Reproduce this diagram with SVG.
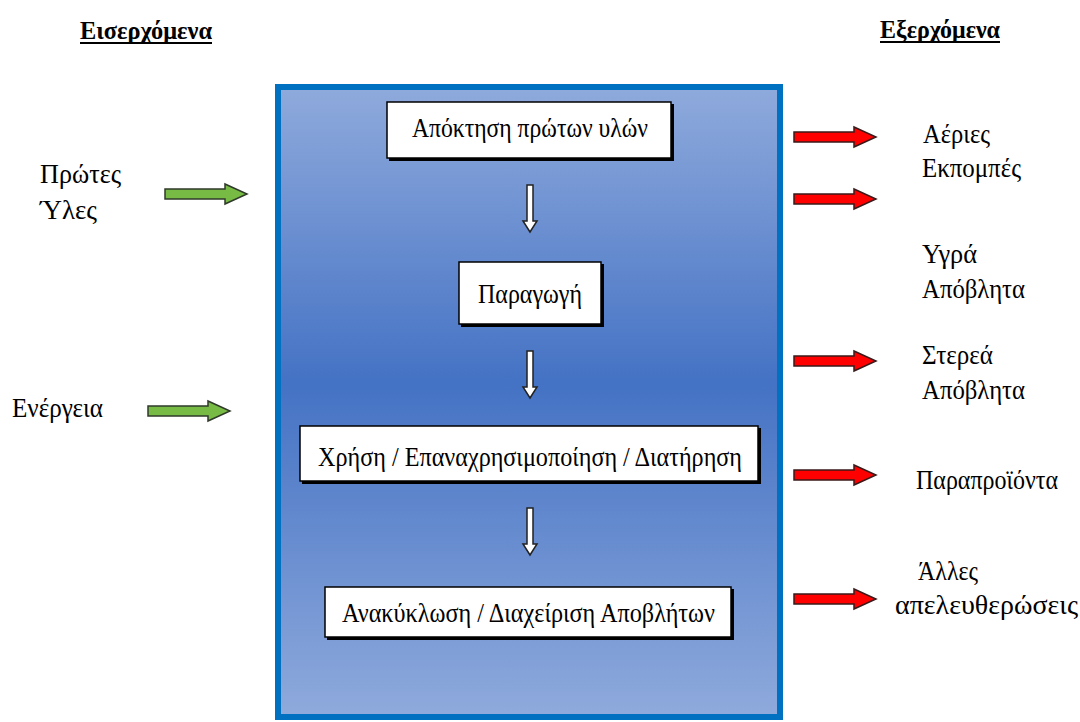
<svg xmlns="http://www.w3.org/2000/svg" width="1080" height="722" viewBox="0 0 1080 722">
<defs>
<linearGradient id="bg" x1="0" y1="0" x2="0" y2="1">
<stop offset="0" stop-color="#8FAADC"/>
<stop offset="0.47" stop-color="#4472C4"/>
<stop offset="1" stop-color="#8FAADC"/>
</linearGradient>
<path id="harrow" d="M0,-5 L60,-5 L60,-10 L82,0 L60,10 L60,5 L0,5 Z"/>
<path id="varrow" d="M-3,0 L3,0 L3,36 L7,36 L0,47 L-7,36 L-3,36 Z"/>
</defs>
<style>
text{font-family:"Liberation Serif","DejaVu Serif",serif;fill:#000;font-size:28px}
.hd{font-weight:bold;font-size:25px}
.ul{stroke:#000;stroke-width:2}
.box{fill:#fff;stroke:#000;stroke-width:1.5}
.sh{fill:#000}
.g{fill:#77BB44;stroke:#2f3a2a;stroke-width:1.5}
.r{fill:#FF0000;stroke:#3a1a1a;stroke-width:1.5}
.w{fill:#fff;stroke:#222;stroke-width:1.5}
</style>
<g id="frame">
<rect x="278" y="87" width="502" height="630" fill="url(#bg)" stroke="#0070C0" stroke-width="6"/>
</g>
<g id="n1">
<rect class="sh" x="389" y="104" width="285" height="57"/>
<rect class="box" x="387" y="102" width="284" height="56"/>
<text x="412" y="137" textLength="236" lengthAdjust="spacingAndGlyphs">Απόκτηση πρώτων υλών</text>
</g>
<g id="n2">
<rect class="sh" x="461" y="264" width="143" height="63"/>
<rect class="box" x="459" y="262" width="142" height="62"/>
<text x="478" y="303" textLength="104" lengthAdjust="spacingAndGlyphs">Παραγωγή</text>
</g>
<g id="n3">
<rect class="sh" x="302" y="428" width="459" height="56"/>
<rect class="box" x="300" y="426" width="458" height="55"/>
<text x="318" y="466" textLength="424" lengthAdjust="spacingAndGlyphs">Χρήση / Επαναχρησιμοποίηση / Διατήρηση</text>
</g>
<g id="n4">
<rect class="sh" x="327" y="589" width="407" height="51"/>
<rect class="box" x="325" y="587" width="406" height="50"/>
<text x="342" y="622" textLength="373" lengthAdjust="spacingAndGlyphs">Ανακύκλωση / Διαχείριση Αποβλήτων</text>
</g>
<g id="connectors">
<use href="#varrow" class="w" x="530" y="185"/>
<use href="#varrow" class="w" x="530" y="351"/>
<use href="#varrow" class="w" x="530" y="508"/>
<use href="#harrow" class="g" x="165" y="194"/>
<use href="#harrow" class="g" x="148" y="411"/>
<use href="#harrow" class="r" x="794" y="137"/>
<use href="#harrow" class="r" x="794" y="199"/>
<use href="#harrow" class="r" x="794" y="361"/>
<use href="#harrow" class="r" x="794" y="475"/>
<use href="#harrow" class="r" x="794" y="599"/>
</g>
<g id="inputs">
<text class="hd" x="80" y="39" textLength="132" lengthAdjust="spacingAndGlyphs">Εισερχόμενα</text>
<line class="ul" x1="80" y1="43" x2="212" y2="43"/>
<text x="40" y="183" textLength="81" lengthAdjust="spacingAndGlyphs">Πρώτες</text>
<text x="40" y="219" textLength="57" lengthAdjust="spacingAndGlyphs">Ύλες</text>
<text x="12" y="417" textLength="91" lengthAdjust="spacingAndGlyphs">Ενέργεια</text>
</g>
<g id="outputs">
<text class="hd" x="880" y="38" textLength="120" lengthAdjust="spacingAndGlyphs">Εξερχόμενα</text>
<line class="ul" x1="880" y1="42" x2="1000" y2="42"/>
<text x="923" y="143" textLength="67" lengthAdjust="spacingAndGlyphs">Αέριες</text>
<text x="922" y="177" textLength="99" lengthAdjust="spacingAndGlyphs">Εκπομπές</text>
<text x="922" y="263" textLength="55" lengthAdjust="spacingAndGlyphs">Υγρά</text>
<text x="922" y="298" textLength="103" lengthAdjust="spacingAndGlyphs">Απόβλητα</text>
<text x="922" y="364" textLength="71" lengthAdjust="spacingAndGlyphs">Στερεά</text>
<text x="922" y="399" textLength="103" lengthAdjust="spacingAndGlyphs">Απόβλητα</text>
<text x="916" y="489" textLength="142" lengthAdjust="spacingAndGlyphs">Παραπροϊόντα</text>
<text x="918" y="580" textLength="60" lengthAdjust="spacingAndGlyphs">Άλλες</text>
<text x="895" y="614" textLength="183" lengthAdjust="spacingAndGlyphs">απελευθερώσεις</text>
</g>
</svg>
